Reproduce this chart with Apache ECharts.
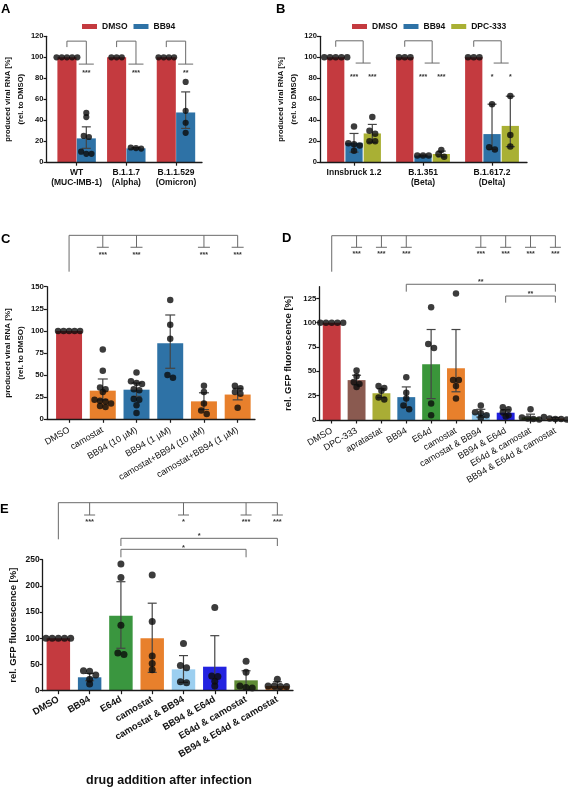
<!DOCTYPE html>
<html><head><meta charset="utf-8">
<script src="https://cdn.jsdelivr.net/npm/echarts@6/dist/echarts.min.js"></script>
<style>html,body{margin:0;padding:0;background:#fff}#c{width:568px;height:790px}</style>
</head><body><div id="c"></div>
<script>
// ================= DATA =================
// Panel A
const aCategories = ['WT\n(MUC-IMB-1)', 'B.1.1.7\n(Alpha)', 'B.1.1.529\n(Omicron)'];
const aDMSOMean = [100, 100, 100];
const aDMSOPoints = [[100,100,100,100,100],[100,100,100],[100,100,100,100]];
const aBB94Mean = [22.7, 13.2, 47.4];
const aBB94Low = [13.2, 12.6, 32.2];
const aBB94High = [33.7, 13.9, 67];
const aBB94Points = [[47,43,25,24,10,8,8],[14,13.5,13],[76.5,49,37.6,28]];
const aSignif = [['***'],['***'],['**']];
const aTicks = [0,20,40,60,80,100,120];

// Panel B
const bCategories = ['Innsbruck 1.2', 'B.1.351\n(Beta)', 'B.1.617.2\n(Delta)'];
const bDMSOMean = [100, 100, 100];
const bDMSOPoints = [[100,100,100,100,100],[100,100,100],[100,100,100]];
const bBB94Mean = [18.5, 6.3, 26.8];
const bBB94Low = [9.6, 5.8, 12.2];
const bBB94High = [27.4, 6.8, 55.3];
const bBB94Points = [[34,18,17,16,11],[6.5,6.5,6.5],[55.3,14.2,12.2]];
const bDPCMean = [27.4, 7.8, 34.6];
const bDPCLow = [19, 5, 14.8];
const bDPCHigh = [36, 10.6, 62.9];
const bDPCPoints = [[43,30,27,20,20],[11.6,7.8,5.2],[63,26,15]];
const bSignif = [['***','***'],['***','***'],['*','*']];

// Panel C
const cCategories = ['DMSO','camostat','BB94 (10 µM)','BB94 (1 µM)','camostat+BB94 (10 µM)','camostat+BB94 (1 µM)'];
const cMean = [100, 32.4, 33.5, 86, 20.3, 28];
const cLow = [100, 22, 26, 57.7, 11, 22];
const cHigh = [100, 45.6, 41, 118, 30, 35];
const cPoints = [[100,100,100,100,100],[79,55,36,34,31,22,21,20,18,15,14],[53,43,41,40,34,33,23,22,16,7],[135,107,91,50,47],[38,31,18,10,6],[38,35,31,29,13]];
const cTopCompare = [1,2,4,5];
const cTopSignif = ['***','***','***','***'];
const cTicks = [0,25,50,75,100,125,150];

// Panel D
const dCategories = ['DMSO','DPC-333','apratastat','BB94','E64d','camostat','camostat & BB94','BB94 & E64d','E64d & camostat','BB94 & E64d & camostat'];
const dMean = [100, 41, 27.5, 23.5, 57.2, 53.1, 6.8, 7.5, 2.7, 1.5];
const dLow = [100, 36, 23, 13, 22, 29, 3, 4.5, 0.5, 0.5];
const dHigh = [100, 46, 32, 34, 93, 93, 11, 10.5, 6, 2.5];
const dPoints = [[100,100,100,100,100],[51,45,39,37,34],[35,33,30,23,21],[44,28,22,15,11],[116,78,74,17,5],[130,41,41,35,22],[15,8,7,5,2],[13,11,8,5,3.5],[11,2.5,1.5,1,0.5],[3,1.5,1,0.5,1]];
const dTopCompare = [1,2,3,6,7,8,9];
const dTopSignif = ['***','***','***','***','***','***','***'];
const dPairs = [[3,9,'**'],[7,9,'**']];
const dTicks = [0,25,50,75,100,125];

// Panel E
const eCategories = ['DMSO','BB94','E64d','camostat','camostat & BB94','BB94 & E64d','E64d & camostat','BB94 & E64d & camostat'];
const eMean = [100, 25.6, 143, 100, 40.8, 45.8, 19.8, 9];
const eLow = [100, 19, 81, 35, 16, -13, 2, 3];
const eHigh = [100, 33, 208, 167, 67, 105, 38, 17];
const ePoints = [[100,100,100,100,100],[38,37,30,22,13],[242,216,125,72,69],[221,132,66,52,40],[90,48,44,17,15],[159,28,27,18,9],[56,35,9,6,5],[22,9,8,8,9]];
const eTopCompare = [1,4,6,7];
const eTopSignif = ['***','*','***','***'];
const ePairs = [[2,7,'*'],[2,6,'*']];
const eTicks = [0,50,100,150,200,250];

// ================= STYLE =================
const FONT = 'Liberation Sans';
const RED = '#c43a3f', BLUE = '#2e72a6', OLIVE = '#a9b034', ORANGE = '#e8802c';
const cColors = [RED, ORANGE, BLUE, BLUE, ORANGE, ORANGE];
const dColors = [RED, '#8a5a50', '#a9ad35', BLUE, '#3a963a', ORANGE, '#8fc8ee', '#2020dd', '#5e8a34', '#b8652c'];
const eColors = [RED, '#2e6fa3', '#3a963f', ORANGE, '#9ccff0', '#2323e0', '#5f8b35', '#b8682c'];
const AXIS = '#1a1a1a', BRACKET = '#6a6a6a', ERR = '#444';

const option = {animation:false, backgroundColor:'#fff', grid:[], xAxis:[], yAxis:[], series:[], legend:[], graphic:[]};

function swarm(values, d, pxX, pxY) {
  const idx = values.map((v,i)=>i).sort((a,b)=>values[b]-values[a]);
  const offs = new Array(values.length).fill(0);
  let row = [];
  const flush = () => { const k = row.length; row.forEach((i,j)=>{ offs[i] = (j-(k-1)/2)*d*0.88/pxX; }); row = []; };
  idx.forEach(i => {
    if (row.length && (values[row[0]] - values[i]) * pxY > d*0.6) flush();
    row.push(i);
  });
  flush();
  return offs;
}

function barRenderer(bw, colors) {
  return (params, api) => {
    const x = api.value(0), y = api.value(1);
    const tl = api.coord([x - bw/2, y]), br = api.coord([x + bw/2, 0]);
    return {type:'rect', shape:{x:tl[0], y:tl[1], width:br[0]-tl[0], height:br[1]-tl[1]},
      style:{fill:colors[params.dataIndex % colors.length]}};
  };
}
function errRenderer(cap) {
  return (params, api) => {
    const x = api.value(0), lo = api.value(1), hi = api.value(2);
    if (hi - lo < 0.01) return {type:'group', children:[]};
    const pl = api.coord([x, Math.max(lo,0)]), ph = api.coord([x, hi]);
    const st = {stroke:ERR, lineWidth:1.2};
    const ch = [
      {type:'line', shape:{x1:pl[0], y1:pl[1], x2:ph[0], y2:ph[1]}, style:st},
      {type:'line', shape:{x1:ph[0]-cap, y1:ph[1], x2:ph[0]+cap, y2:ph[1]}, style:st}];
    if (lo > 0) ch.push({type:'line', shape:{x1:pl[0]-cap, y1:pl[1], x2:pl[0]+cap, y2:pl[1]}, style:st});
    return {type:'group', children:ch};
  };
}
function annotRenderer(prims, starFont) {
  return (params, api) => {
    const p = prims[params.dataIndex];
    const st = {stroke:BRACKET, lineWidth:1};
    if (p.t === 'seg') {
      const a = api.coord([p.x1,p.y1]), b = api.coord([p.x2,p.y2]);
      return {type:'line', shape:{x1:a[0],y1:a[1],x2:b[0],y2:b[1]}, style:st};
    }
    if (p.t === 'cross') {
      const a = api.coord([p.x,p.y]);
      return {type:'line', shape:{x1:a[0]-p.hw,y1:a[1],x2:a[0]+p.hw,y2:a[1]}, style:st};
    }
    const a = api.coord([p.x,p.y]);
    return {type:'text', x:a[0], y:a[1]+2, style:{text:p.s, fill:'#333', font:starFont, align:'center', verticalAlign:'middle'}};
  };
}

function buildPanel(p) {
  const gi = option.grid.length;
  option.grid.push({left:p.left, top:p.top, width:p.width, height:p.height});
  const ticks = p.categories.map((_, i) => i);
  const pxX = p.width / (p.xMax - p.xMin), pxY = p.height / (p.yMax - 0);
  option.xAxis.push({type:'value', gridIndex:gi, min:p.xMin, max:p.xMax, z:10,
    axisLine:{show:true, onZero:false, lineStyle:{color:AXIS, width:1.3}},
    axisTick:{show:true, length:3.5, customValues:ticks, lineStyle:{color:AXIS, width:1.2}},
    axisLabel:Object.assign({customValues:ticks, formatter: v => p.categories[Math.round(v)],
      fontFamily:FONT, color:'#111'}, p.xLabel),
    splitLine:{show:false}});
  option.yAxis.push({type:'value', gridIndex:gi, min:0, max:p.yMax, z:10,
    name:p.yName, nameLocation:'middle', nameGap:p.nameGap, nameRotate:90,
    nameTextStyle:Object.assign({fontFamily:FONT, fontWeight:'bold', color:'#111'}, p.nameStyle),
    axisLine:{show:true, onZero:false, lineStyle:{color:AXIS, width:1.3}},
    axisTick:{show:true, length:3, customValues:p.yTicks, lineStyle:{color:AXIS, width:1.2}},
    axisLabel:{customValues:p.yTicks, margin:3, fontFamily:FONT, fontWeight:'bold', fontSize:p.yFont, color:'#111'},
    splitLine:{show:false}});
  p.bars.forEach(b => {
    option.series.push({type:'custom', name:b.name, xAxisIndex:gi, yAxisIndex:gi, z:2,
      itemStyle:{color:b.colors[0]}, data:b.mean.map((m,i)=>[i+b.off, m]),
      renderItem:barRenderer(p.barWidth, b.colors)});
  });
  p.bars.forEach(b => {
    option.series.push({type:'custom', xAxisIndex:gi, yAxisIndex:gi, z:3, silent:true,
      encode:{x:0, y:[1,2]}, data:b.mean.map((m,i)=>[i+b.off, b.low[i], b.high[i]]),
      renderItem:errRenderer(p.cap)});
  });
  p.bars.forEach(b => {
    const dots = [];
    b.points.forEach((pts, i) => {
      const offs = swarm(pts, p.dot, pxX, pxY);
      pts.forEach((v, j) => dots.push([i + b.off + offs[j], v]));
    });
    option.series.push({type:'scatter', xAxisIndex:gi, yAxisIndex:gi, z:4, silent:true,
      symbol:'circle', symbolSize:p.dot, itemStyle:{color:'#0b0b0b'}, data:dots});
  });
  const prims = p.annots;
  option.series.push({type:'custom', xAxisIndex:gi, yAxisIndex:gi, z:5, clip:false, silent:true,
    data:prims.map(q => [q.x !== undefined ? q.x : q.x1, q.y !== undefined ? q.y : q.y1]),
    renderItem:annotRenderer(prims, p.starFont)});
}

// bracket helpers
const seg = (x1,y1,x2,y2) => ({t:'seg', x1, y1, x2, y2});
const cross = (x,y,hw) => ({t:'cross', x, y, hw});
const txt = (x,y,s) => ({t:'text', x, y, s});

function groupBrackets(nGroups, offs, signif, L) {
  const out = [];
  for (let g = 0; g < nGroups; g++) {
    const xD = g + offs[0];
    const tr = offs.slice(1);
    const xLeg = g + tr.reduce((s,v)=>s+v,0)/tr.length;
    out.push(seg(xD, L.top, xLeg, L.top), seg(xD, L.top, xD, L.left), seg(xLeg, L.top, xLeg, L.right), cross(xLeg, L.right, L.hw));
    tr.forEach((o, k) => out.push(txt(g + o, L.star, signif[g][k])));
  }
  return out;
}
function spanBrackets(compare, signif, L) {
  const out = [];
  const xLast = Math.max(...compare);
  out.push(seg(0, L.top, xLast, L.top), seg(0, L.top, 0, L.left));
  compare.forEach((c, k) => { out.push(seg(c, L.top, c, L.tick), cross(c, L.tick, L.hw), txt(c, L.star, signif[k])); });
  return out;
}
function pairBrackets(pairs, L) {
  const out = [];
  pairs.forEach((pr, k) => {
    const l = L[k];
    out.push(seg(pr[0], l.y, pr[1], l.y), seg(pr[0], l.y, pr[0], l.leg), seg(pr[1], l.y, pr[1], l.leg), txt((pr[0]+pr[1])/2, l.star, pr[2]));
  });
  return out;
}

const aOffs = [-0.195, 0.195];
const bOffs = [-0.265, 0, 0.265];
const abXLabel = {fontSize:8.5, fontWeight:'bold', lineHeight:10, margin:5};

buildPanel({left:39, top:36.3, width:163, height:125.9, xMin:-0.605, xMax:2.524, yMax:120, yTicks:aTicks, yFont:7.6,
  categories:aCategories, xLabel:abXLabel, yName:'produced viral RNA [%]\n(rel. to DMSO)', nameGap:11,
  nameStyle:{fontSize:7.6, lineHeight:13}, barWidth:0.384, dot:6.2, cap:4.5, starFont:'bold 7px Liberation Sans',
  bars:[
    {name:'DMSO', colors:[RED], off:aOffs[0], mean:aDMSOMean, low:aDMSOMean, high:aDMSOMean, points:aDMSOPoints},
    {name:'BB94', colors:[BLUE], off:aOffs[1], mean:aBB94Mean, low:aBB94Low, high:aBB94High, points:aBB94Points}],
  annots:groupBrackets(3, aOffs, aSignif, {top:115.4, left:109.7, right:93.5, star:87, hw:7.5})});

buildPanel({left:320, top:36.3, width:207, height:125.9, xMin:-0.493, xMax:2.507, yMax:120, yTicks:aTicks, yFont:7.6,
  categories:bCategories, xLabel:abXLabel, yName:'produced viral RNA [%]\n(rel. to DMSO)', nameGap:11,
  nameStyle:{fontSize:7.6, lineHeight:13}, barWidth:0.25, dot:6.5, cap:4.5, starFont:'bold 7px Liberation Sans',
  bars:[
    {name:'DMSO', colors:[RED], off:bOffs[0], mean:bDMSOMean, low:bDMSOMean, high:bDMSOMean, points:bDMSOPoints},
    {name:'BB94', colors:[BLUE], off:bOffs[1], mean:bBB94Mean, low:bBB94Low, high:bBB94High, points:bBB94Points},
    {name:'DPC-333', colors:[OLIVE], off:bOffs[2], mean:bDPCMean, low:bDPCLow, high:bDPCHigh, points:bDPCPoints}],
  annots:groupBrackets(3, bOffs, bSignif, {top:115.7, left:110, right:94.5, star:83, hw:7.5})});

buildPanel({left:39, top:286.7, width:216, height:132.6, xMin:-0.657, xMax:5.514, yMax:150, yTicks:cTicks, yFont:7.8,
  categories:cCategories, xLabel:{fontSize:9, rotate:30, margin:10},
  yName:'produced viral RNA [%]\n(rel. to DMSO)', nameGap:11, nameStyle:{fontSize:8, lineHeight:13},
  barWidth:0.77, dot:6.5, cap:5, starFont:'bold 7px Liberation Sans',
  bars:[{name:'C', colors:cColors, off:0, mean:cMean, low:cLow, high:cHigh, points:cPoints}],
  annots:spanBrackets(cTopCompare, cTopSignif, {top:208.1, left:167, tick:194.6, star:188.5, hw:6})});

buildPanel({left:319.3, top:286.7, width:248.5, height:133.3, xMin:-0.5, xMax:9.5, yMax:137, yTicks:dTicks, yFont:7.8,
  categories:dCategories, xLabel:{fontSize:9, rotate:30, margin:10},
  yName:'rel. GFP fluorescence [%]', nameGap:26, nameStyle:{fontSize:9.5},
  barWidth:0.72, dot:6.5, cap:4.5, starFont:'bold 7px Liberation Sans',
  bars:[{name:'D', colors:dColors, off:0, mean:dMean, low:dLow, high:dHigh, points:dPoints}],
  annots:spanBrackets(dTopCompare, dTopSignif, {top:189.4, left:152.4, tick:177.5, star:172.5, hw:5.5})
    .concat(pairBrackets(dPairs, [{y:139.5, leg:131.9, star:143.5},{y:127.4, leg:120.6, star:131.5}]))});

buildPanel({left:42.7, top:559.7, width:250.3, height:131, xMin:-0.5, xMax:7.5, yMax:250, yTicks:eTicks, yFont:8.5,
  categories:eCategories, xLabel:{fontSize:9.5, fontWeight:'bold', rotate:30, margin:8},
  yName:'rel. GFP fluorescence [%]', nameGap:24, nameStyle:{fontSize:9.5},
  barWidth:0.75, dot:7, cap:4.5, starFont:'bold 7.5px Liberation Sans',
  bars:[{name:'E', colors:eColors, off:0, mean:eMean, low:eLow, high:eHigh, points:ePoints}],
  annots:spanBrackets(eTopCompare, eTopSignif, {top:358.8, left:288.9, tick:335.3, star:325, hw:5.5})
    .concat(pairBrackets(ePairs, [{y:290.8, leg:276.1, star:299},{y:269.8, leg:254.6, star:277}]))});

const legendText = {fontFamily:FONT, fontSize:8.5, fontWeight:'bold', color:'#111'};
option.legend.push({data:['DMSO','BB94'], left:77, top:17, icon:'rect', itemWidth:15, itemHeight:5, itemGap:6, textStyle:legendText, selectedMode:false});
option.legend.push({data:['DMSO','BB94','DPC-333'], left:347, top:17, icon:'rect', itemWidth:15, itemHeight:5, itemGap:6, textStyle:legendText, selectedMode:false});

const letterFont = 'bold 13px Liberation Sans';
[['A',1,10],['B',276,10],['C',1,239.5],['D',282,238.5],['E',0,509.5]].forEach(l => {
  option.graphic.push({type:'text', left:l[1], top:l[2]-7, style:{text:l[0], font:letterFont, fill:'#000'}});
});
option.graphic.push({type:'text', left:86, top:774, style:{text:'drug addition after infection', font:'bold 12.5px Liberation Sans', fill:'#111'}});

const chart = echarts.init(document.getElementById('c'), null, {renderer:'canvas'});
chart.setOption(option);
</script></body></html>
